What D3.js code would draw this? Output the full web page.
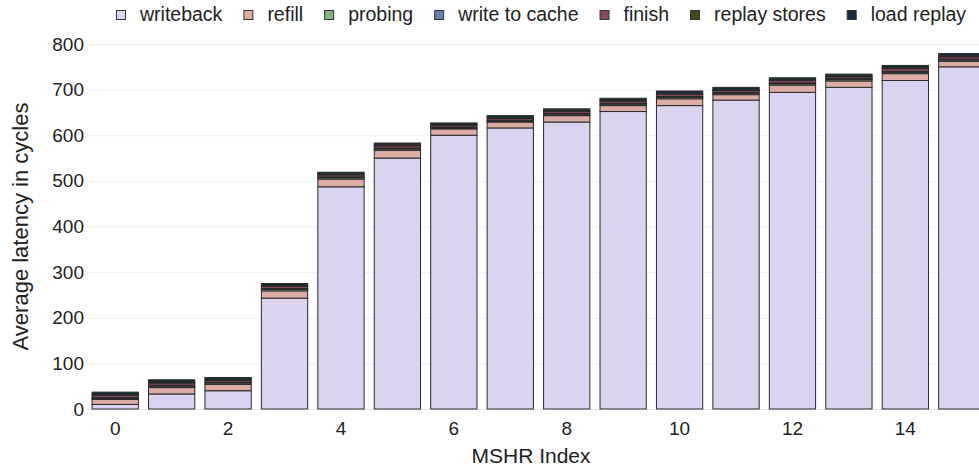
<!DOCTYPE html>
<html>
<head>
<meta charset="utf-8">
<script src="https://cdn.jsdelivr.net/npm/d3@7"></script>
<style>
  body { margin: 0; background: #fff; }
  svg { display: block; font-family: "Liberation Sans", Arial, sans-serif; }
</style>
</head>
<body>
<script>
'use strict';

// MSHR index on the x axis
const indices = [0, 1, 2, 3, 4, 5, 6, 7, 8, 9, 10, 11, 12, 13, 14, 15]

// stacked latency components (cycles), bottom to top
const writeback    = [10, 33, 40, 243, 487, 550, 600, 616, 629, 652, 665, 677, 694, 705, 720, 750]
const refill       = [11, 14, 14, 16, 17, 17, 14, 13, 14, 13, 15, 12, 16, 14, 15, 12]
const probing      = [2, 3, 3, 3, 3, 3, 2, 2, 3, 3, 3, 3, 3, 3, 3, 3]
const writeToCache = [2, 2, 2, 2, 2, 2, 2, 2, 2, 2, 2, 2, 2, 2, 2, 2]
const finish       = [5, 5, 4, 5, 4, 5, 4, 4, 4, 5, 5, 4, 5, 4, 6, 5]
const replayStores = [2, 2, 2, 2, 2, 2, 2, 2, 2, 2, 2, 2, 2, 2, 3, 2]
const loadReplay   = [5, 5, 4, 4, 4, 4, 3, 4, 4, 4, 5, 5, 4, 4, 4, 5]

const seriesNames = ['writeback', 'refill', 'probing', 'write to cache', 'finish', 'replay stores', 'load replay']
const seriesValues = [writeback, refill, probing, writeToCache, finish, replayStores, loadReplay]
const seriesColors = ['#dcd3f0', '#dcaba3', '#82b47e', '#6b7eb3', '#8b4860', '#3d4a1d', '#15303a']

const yTicks = [0, 100, 200, 300, 400, 500, 600, 700, 800]
const xTicks = [0, 2, 4, 6, 8, 10, 12, 14]

const largura = 979
const altura = 474
const margem = {esq: 87, dir: 990, topo: 44, base: 409}

const svg = d3.select('body').append('svg')
    .attr('width', largura)
    .attr('height', altura)

const escalaX = d3.scaleBand()
    .domain(indices)
    .range([margem.esq, margem.dir])
    .paddingInner(0.18)
    .paddingOuter(0.09)

const escalaY = d3.scaleLinear()
    .domain([0, 800])
    .range([margem.base, margem.topo])

// grid
svg.append('g')
    .selectAll('line')
    .data(yTicks)
    .enter().append('line')
    .attr('x1', margem.esq)
    .attr('x2', largura)
    .attr('y1', d => escalaY(d) + 0.5)
    .attr('y2', d => escalaY(d) + 0.5)
    .attr('stroke', d => d === 0 ? '#e3e8f2' : '#eef0f6')
    .attr('stroke-width', 1)

// y axis, no domain line
const eixoY = d3.axisLeft(escalaY).tickValues(yTicks).tickSize(0).tickPadding(0)
svg.append('g')
    .attr('transform', `translate(${margem.esq - 3}, 0)`)
    .call(eixoY)
    .call(g => g.select('.domain').remove())
    .selectAll('text')
    .attr('font-size', 19)
    .attr('fill', '#222')
    .attr('font-family', '"Liberation Sans", Arial, sans-serif')

// x axis
const eixoX = d3.axisBottom(escalaX).tickValues(xTicks).tickSize(0).tickPadding(13)
svg.append('g')
    .attr('transform', `translate(0, ${margem.base})`)
    .call(eixoX)
    .call(g => g.select('.domain').remove())
    .selectAll('text')
    .attr('font-size', 19)
    .attr('fill', '#222')
    .attr('font-family', '"Liberation Sans", Arial, sans-serif')

// stacked bars
const tabela = indices.map((idx, i) => {
    const linha = {idx: idx}
    seriesNames.forEach((nome, s) => { linha[nome] = seriesValues[s][i] })
    return linha
})
const pilha = d3.stack().keys(seriesNames)(tabela)

const barras = svg.append('g')
pilha.forEach((camada, s) => {
    barras.append('g')
        .attr('fill', seriesColors[s])
        .selectAll('rect')
        .data(camada)
        .enter().append('rect')
        .attr('x', d => escalaX(d.data.idx))
        .attr('width', escalaX.bandwidth())
        .attr('y', d => escalaY(d[1]))
        .attr('height', d => escalaY(d[0]) - escalaY(d[1]))
        .attr('stroke', '#2a2a2a')
        .attr('stroke-width', 1)
})

// axis titles
svg.append('text')
    .attr('x', 531)
    .attr('y', 463)
    .attr('text-anchor', 'middle')
    .attr('font-size', 21)
    .attr('fill', '#222')
    .text('MSHR Index')

svg.append('text')
    .attr('transform', `translate(28, ${(margem.topo + margem.base) / 2}) rotate(-90)`)
    .attr('text-anchor', 'middle')
    .attr('font-size', 22)
    .attr('fill', '#222')
    .text('Average latency in cycles')

// legend
const legenda = svg.append('g')
let posX = 116
seriesNames.forEach((nome, s) => {
    const item = legenda.append('g')
    item.append('rect')
        .attr('x', posX + 0.5)
        .attr('y', 10.5)
        .attr('width', 9)
        .attr('height', 9)
        .attr('fill', seriesColors[s])
        .attr('stroke', '#333')
        .attr('stroke-width', 1)
    const texto = item.append('text')
        .attr('x', posX + 24)
        .attr('y', 21)
        .attr('font-size', 19.5)
        .attr('fill', '#222')
        .text(nome)
    posX = posX + 24 + texto.node().getComputedTextLength() + 21
})
</script>
</body>
</html>
